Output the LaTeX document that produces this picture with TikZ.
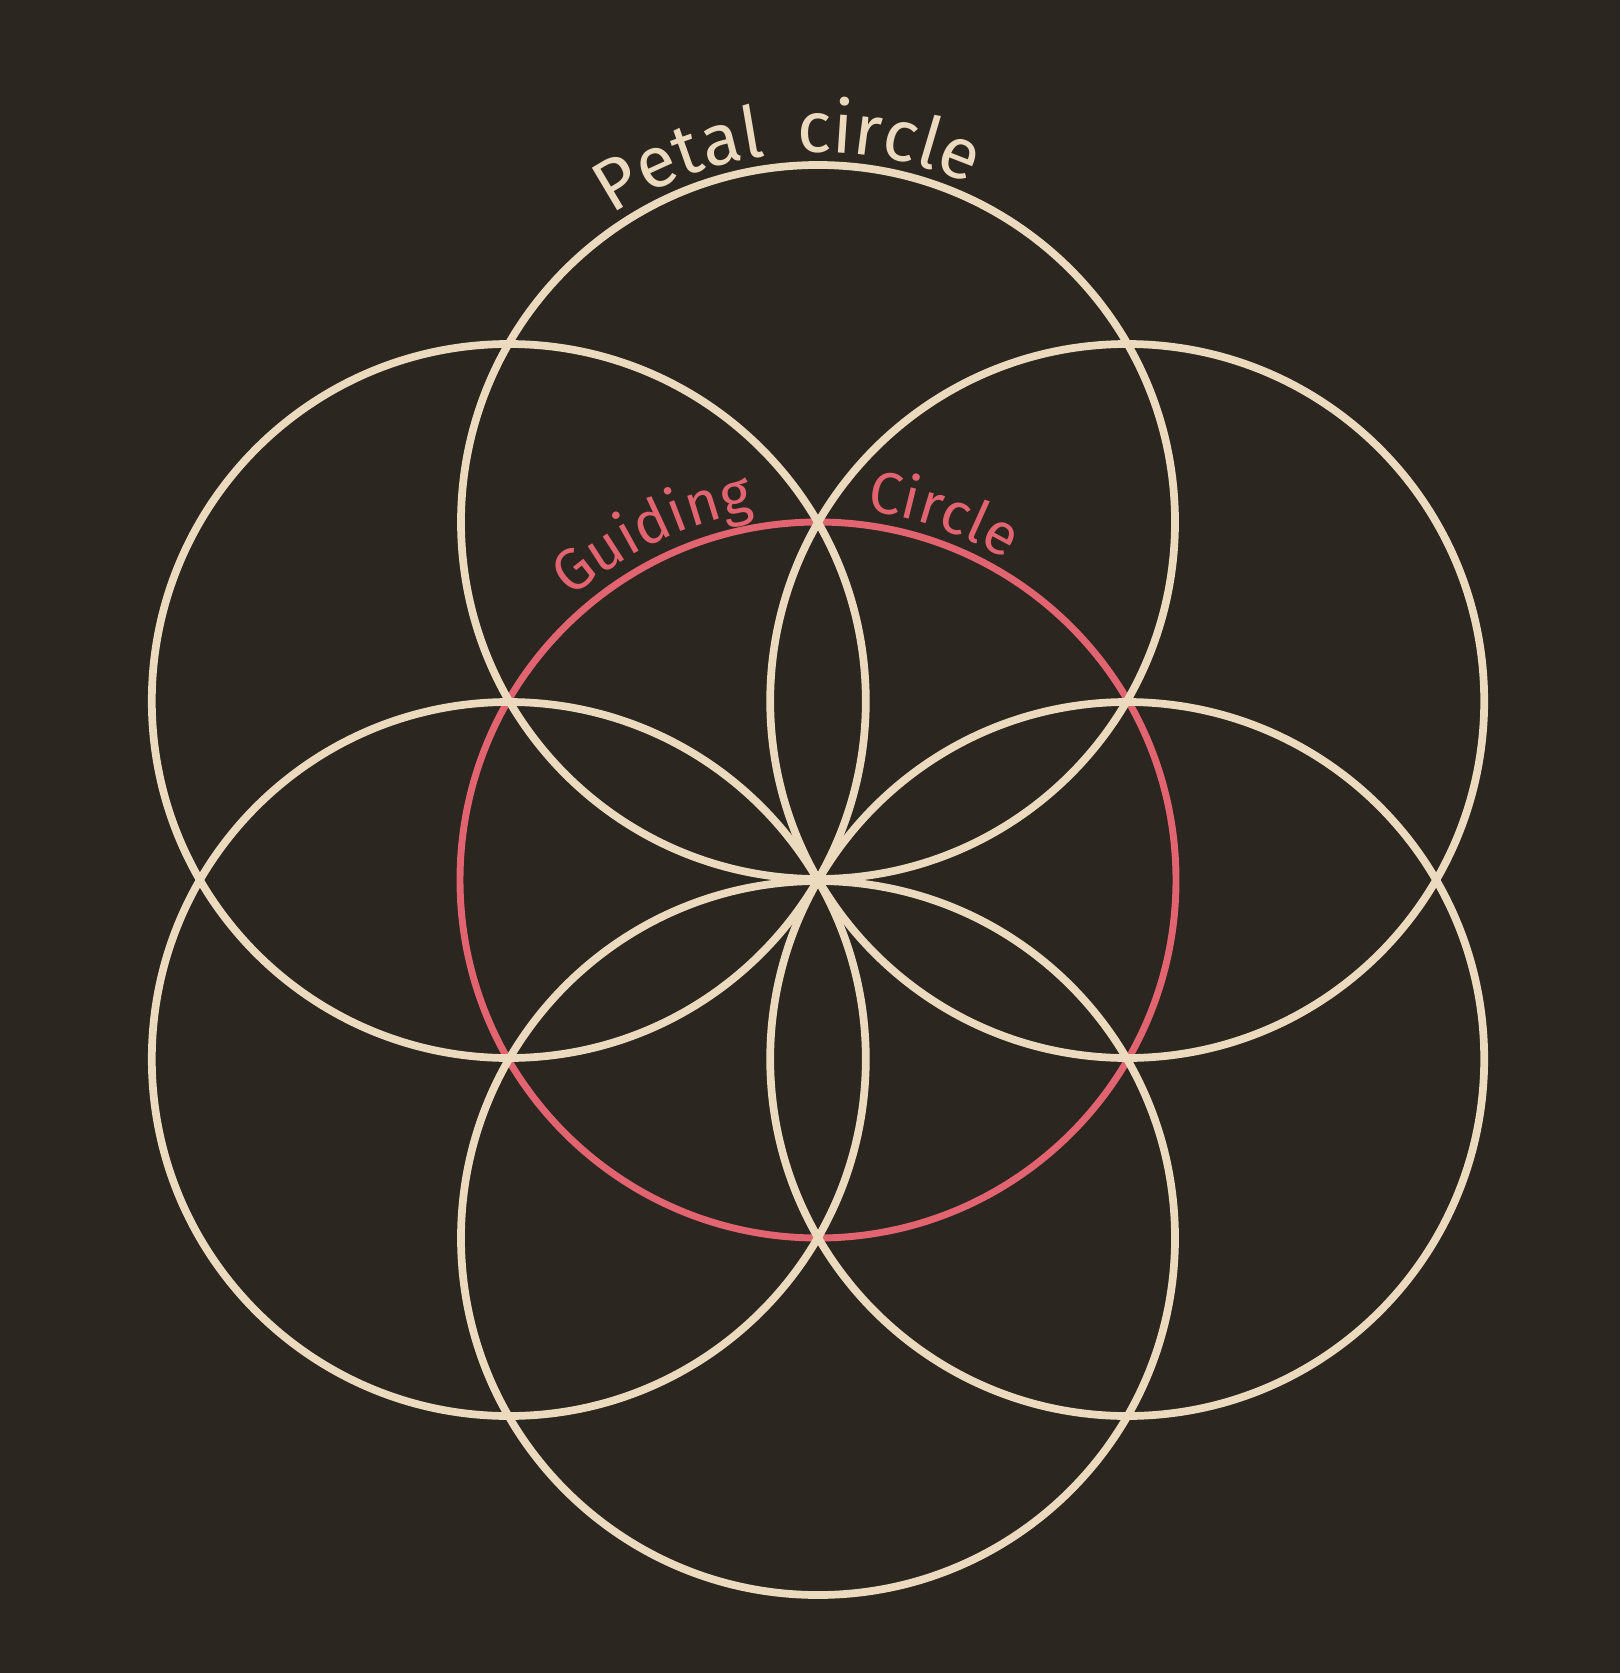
\documentclass[tikz,border=0pt]{standalone}
\usepackage{fontspec}
\setmainfont{Fira Sans}
\usetikzlibrary{decorations.text}

\definecolor{bgdark}{RGB}{43,38,32}
\definecolor{petalcol}{RGB}{235,218,190}
\definecolor{guidecol}{RGB}{226,100,112}

\tikzset{every picture/.style={line width=0.75pt}}
\tikzset{
  petal/.style={draw=petalcol, line width=5.8},
  guiding/.style={draw=guidecol, line width=5.2},
  arclabel/.style={decorate, decoration={text along path, text align=center, raise=0pt}}
}

\begin{document}
\begin{tikzpicture}[x=0.75pt,y=0.75pt,yscale=-1,xscale=1]
%background, sets the 1620 x 1673 frame
\path [fill=bgdark] (0,0) rectangle (1620,1673);

%centres of the guiding circle and of the six petals
\coordinate (mid) at (818,880);
\coordinate (ptop) at (818,522);
\coordinate (pbot) at (818,1238);
\coordinate (pul) at (508.8,701);
\coordinate (pur) at (1127.2,701);
\coordinate (pll) at (508.8,1059);
\coordinate (plr) at (1127.2,1059);

%Shape: Circle (guiding)
\draw [guiding] (mid) circle (358);

%Shape: Circle (petals)
\draw [petal] (ptop) circle (357);
\draw [petal] (pul) circle (357);
\draw [petal] (pur) circle (357);
\draw [petal] (pll) circle (357);
\draw [petal] (plr) circle (357);
\draw [petal] (pbot) circle (357);

% Text along the top petal
\path [arclabel, decoration={text={|\fontsize{54}{60}\selectfont\color{petalcol}|Petal}}]
  (ptop) ++(236:370) arc [start angle=236, end angle=262, radius=370];
\path [arclabel, decoration={text={|\fontsize{54}{60}\selectfont\color{petalcol}|circle}}]
  (ptop) ++(268:370) arc [start angle=268, end angle=293, radius=370];
% Text along the guiding circle
\path [arclabel, decoration={text={|\fontsize{44}{50}\selectfont\color{guidecol}|Guiding}}]
  (mid) ++(229:374) arc [start angle=229, end angle=260, radius=374];
\path [arclabel, decoration={text={|\fontsize{44}{50}\selectfont\color{guidecol}|Circle}}]
  (mid) ++(276:372) arc [start angle=276, end angle=302, radius=372];

\end{tikzpicture}
\end{document}
